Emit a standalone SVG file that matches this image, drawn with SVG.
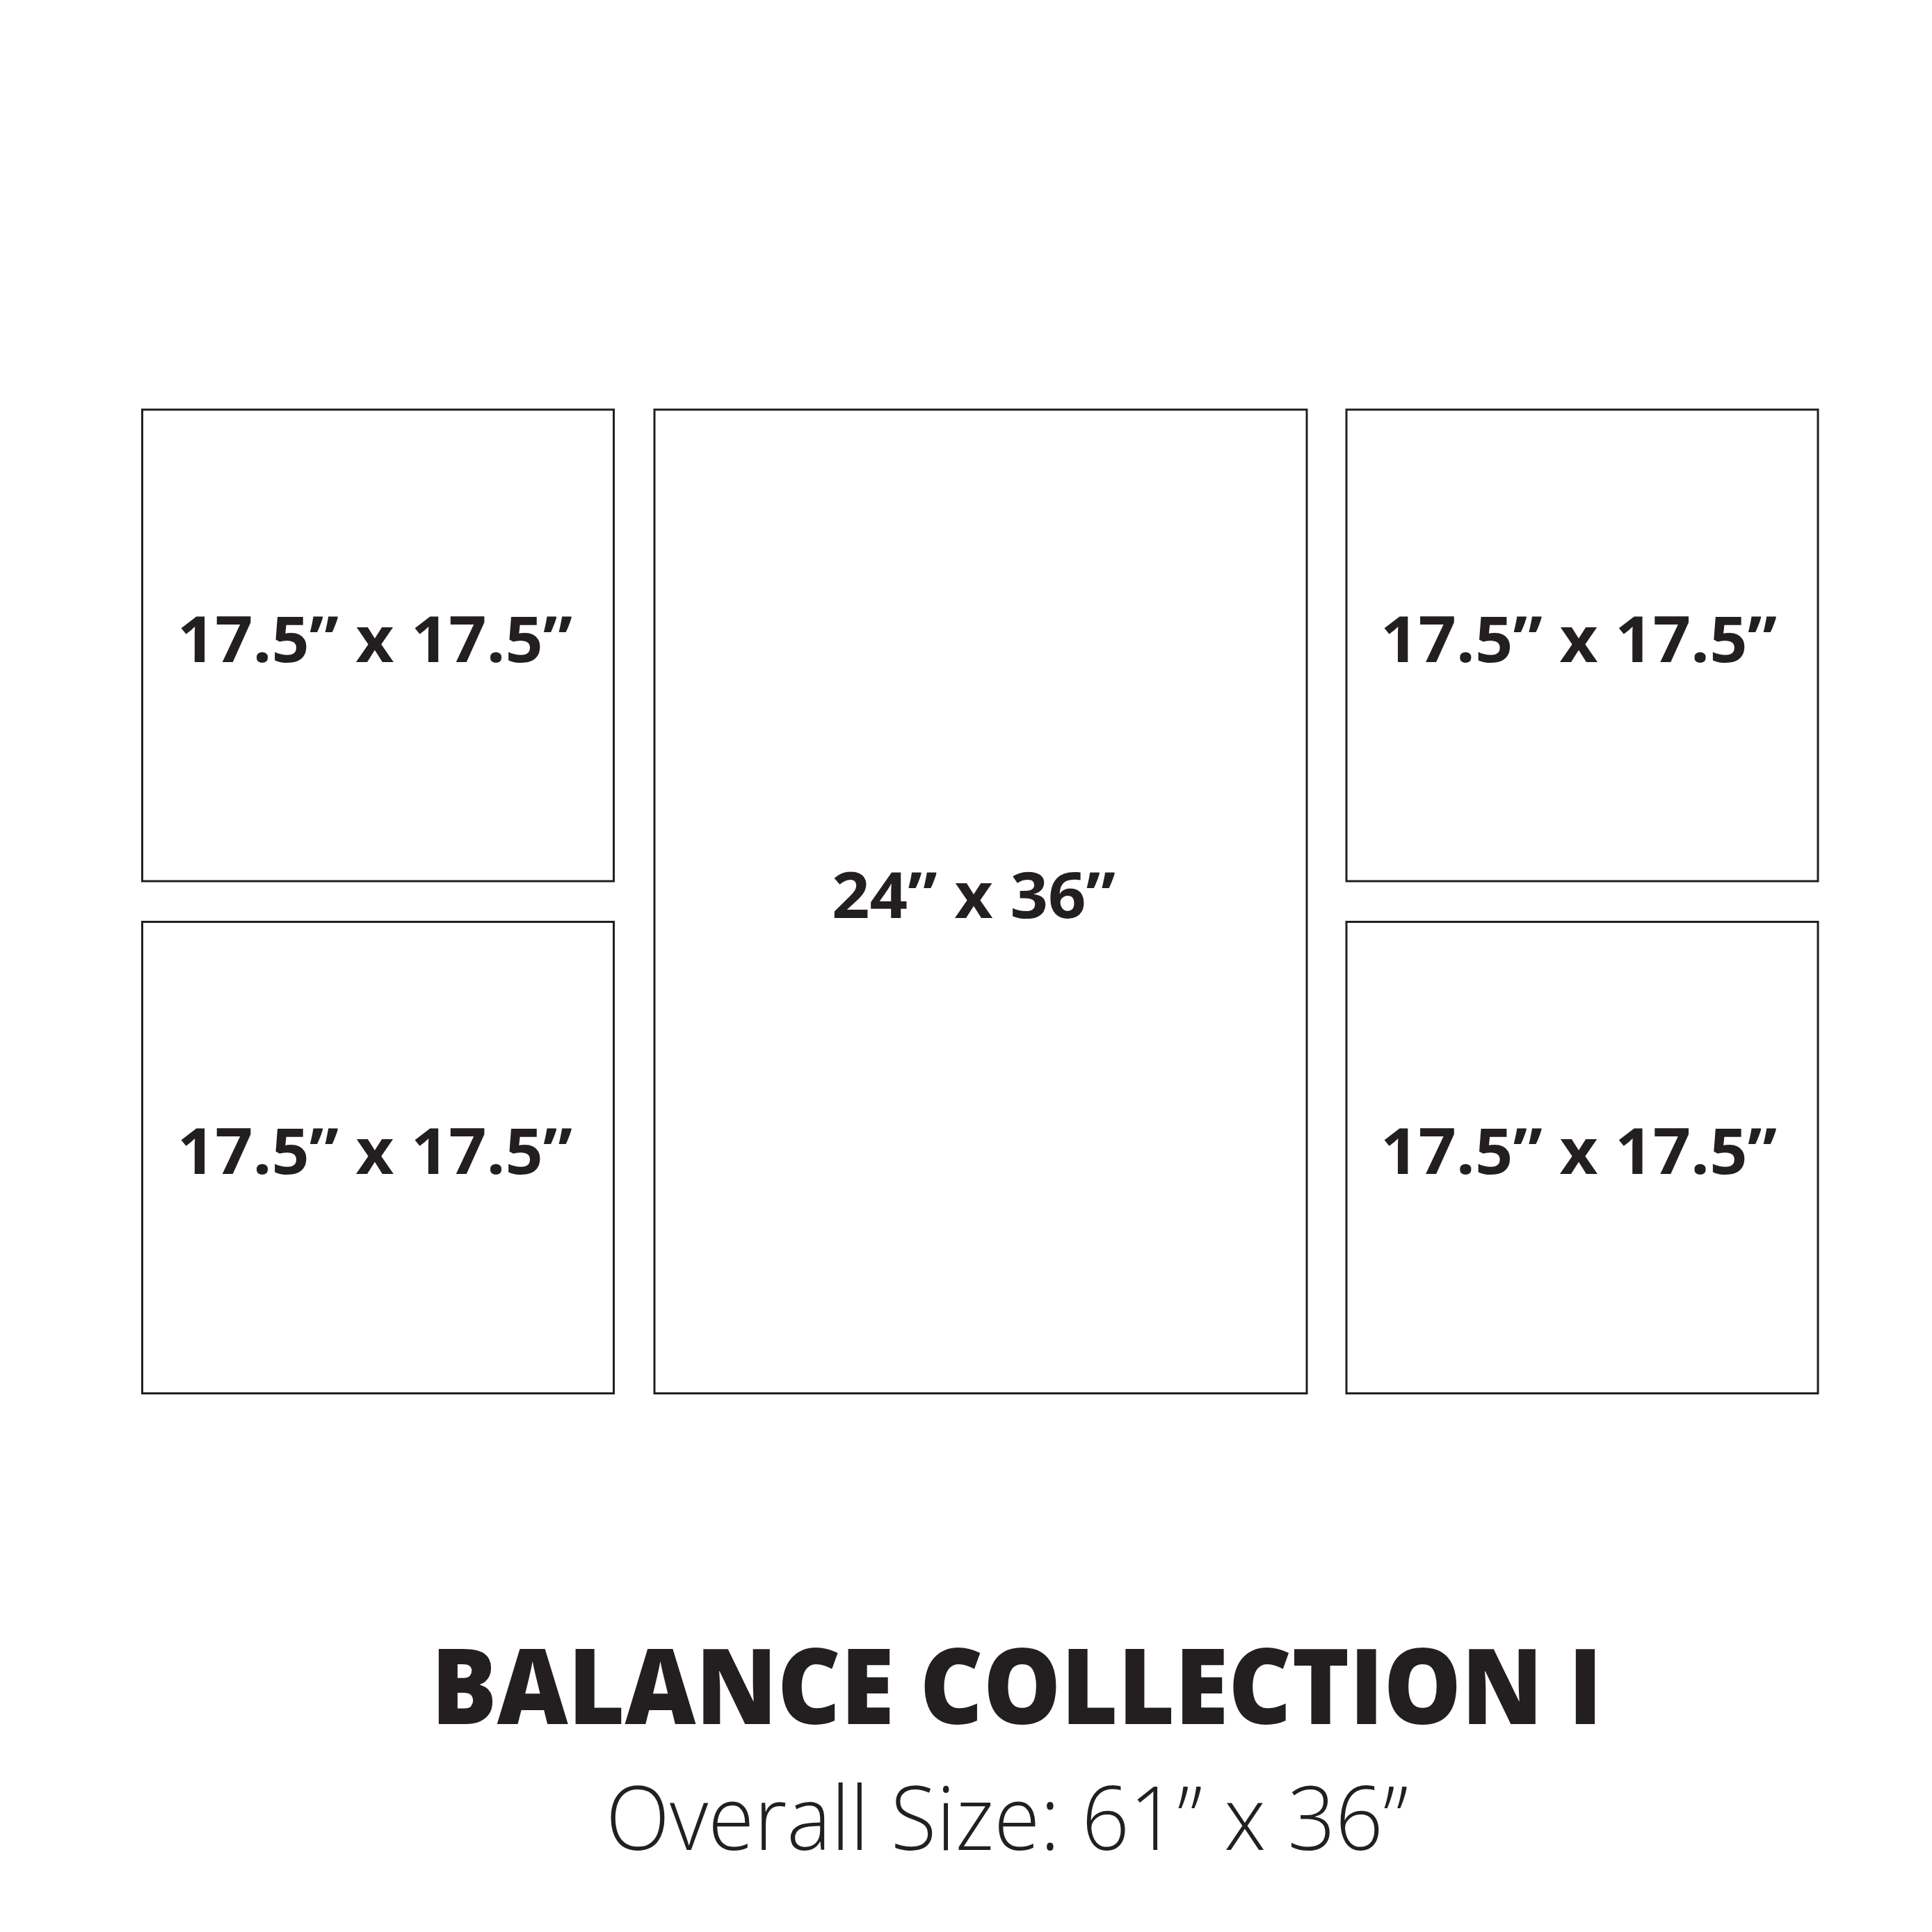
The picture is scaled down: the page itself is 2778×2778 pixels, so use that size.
<svg xmlns="http://www.w3.org/2000/svg" width="2778" height="2778" viewBox="0 0 2778 2778">
  <style>
    .frame { fill: #ffffff; stroke: #231f20; stroke-width: 3; }
    .lbl { font-family: "Open Sans", "Noto Sans", "Liberation Sans", sans-serif; font-weight: 700; font-size: 92px; fill: #231f20; }
    .title { font-family: "Open Sans", "Noto Sans", "Liberation Sans", sans-serif; font-weight: 800; font-size: 150px; fill: #231f20; }
    .sub { font-family: "Open Sans", "Noto Sans", "Liberation Sans", sans-serif; font-weight: 300; font-size: 128px; fill: #231f20; }
  </style>
  <rect x="0" y="0" width="2778" height="2778" fill="#ffffff"/>
  <g id="frame-left-top">
    <rect class="frame" x="204.5" y="589" width="678" height="678"/>
    <text class="lbl" x="255" y="952" textLength="568" lengthAdjust="spacingAndGlyphs">17.5” x 17.5”</text>
  </g>
  <g id="frame-left-bottom">
    <rect class="frame" x="204.5" y="1325.5" width="678" height="678"/>
    <text class="lbl" x="255" y="1688" textLength="568" lengthAdjust="spacingAndGlyphs">17.5” x 17.5”</text>
  </g>
  <g id="frame-center">
    <rect class="frame" x="941" y="589" width="938" height="1414.5"/>
    <text class="lbl" x="1196" y="1320" textLength="408" lengthAdjust="spacingAndGlyphs">24” x 36”</text>
  </g>
  <g id="frame-right-top">
    <rect class="frame" x="1936" y="589" width="678" height="678"/>
    <text class="lbl" x="1985" y="952" textLength="570" lengthAdjust="spacingAndGlyphs">17.5” x 17.5”</text>
  </g>
  <g id="frame-right-bottom">
    <rect class="frame" x="1936" y="1325.5" width="678" height="678"/>
    <text class="lbl" x="1985" y="1688" textLength="570" lengthAdjust="spacingAndGlyphs">17.5” x 17.5”</text>
  </g>
  <g id="connectors"></g>
  <g id="caption">
    <text class="title" x="620" y="2479" textLength="1684" lengthAdjust="spacingAndGlyphs">BALANCE COLLECTION I</text>
    <text class="sub" x="871" y="2660" textLength="1154" lengthAdjust="spacingAndGlyphs">Overall Size: 61” x 36”</text>
  </g>
</svg>
